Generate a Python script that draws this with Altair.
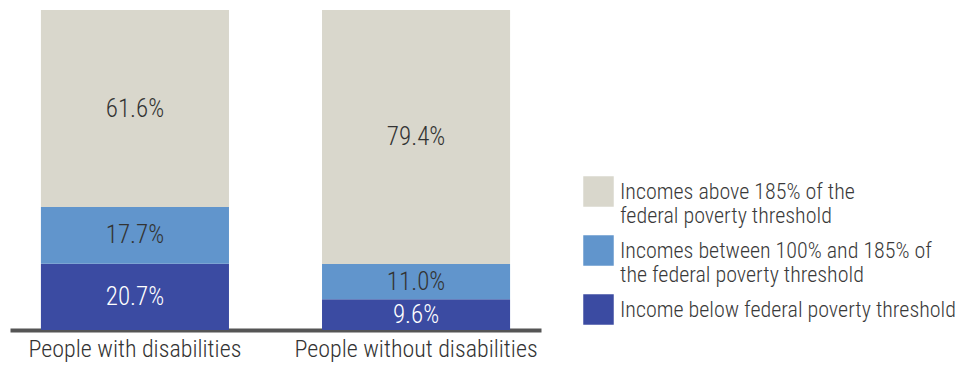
import altair as alt
import pandas as pd

groups = ["People with disabilities", "People without disabilities"]
categories = [
    "Income below federal poverty threshold",
    "Incomes between 100% and 185% of|the federal poverty threshold",
    "Incomes above 185% of the|federal poverty threshold",
]
with_dis = [20.7, 17.7, 61.6]
without_dis = [9.6, 11.0, 79.4]
colors = ["#3B4BA2", "#6195CC", "#D9D7CC"]
label_colors = ["#FFFFFF", "#333333", "#333333"]

rows = []
for g, vals in zip(groups, [with_dis, without_dis]):
    for i, (c, v) in enumerate(zip(categories, vals)):
        rows.append({"group": g, "cat": c, "value": v, "order": i,
                     "label": f"{v:.1f}%", "tcolor": label_colors[i]})
df = pd.DataFrame(rows)

FONT = "Roboto Condensed, DejaVu Sans Condensed, Roboto"

base = alt.Chart(df).transform_stack(
    stack="value", groupby=["group"], as_=["y0", "y1"],
    sort=[alt.SortField("order", order="ascending")]
).transform_calculate(mid="(datum.y0 + datum.y1) / 2")

x = alt.X("group:N", sort=groups, title=None,
          scale=alt.Scale(paddingInner=0.331, paddingOuter=0.11),
          axis=alt.Axis(labelAngle=0, ticks=False, domainColor="#555555",
                        domainWidth=4, labelFont=FONT, labelFontSize=24,
                        labelFontWeight=300,
                        labelColor="#333333", labelPadding=7, labelLimit=400))
yscale = alt.Scale(domain=[0, 100], nice=False)

bars = base.mark_bar().encode(
    x=x,
    y=alt.Y("y0:Q", scale=yscale, axis=None),
    y2="y1:Q",
    color=alt.Color("cat:N", sort=categories[::-1],
                    scale=alt.Scale(domain=categories[::-1], range=colors[::-1]),
                    legend=alt.Legend(title=None, orient="none", legendX=573, legendY=166,
                                      symbolType="square", symbolSize=930,
                                      symbolStrokeWidth=0, labelFont=FONT,
                                      labelFontSize=22, labelFontWeight=300,
                                      labelColor="#3a3a3a",
                                      labelOffset=6, rowPadding=8, labelLimit=500,
                                      labelExpr="split(datum.label, '|')")),
)

texts = base.mark_text(font=FONT, fontSize=25, fontWeight=300, baseline="middle").encode(
    x=alt.X("group:N", sort=groups),
    y=alt.Y("mid:Q", scale=yscale),
    text="label:N",
    color=alt.Color("tcolor:N", scale=None),
)

chart = alt.layer(bars, texts).properties(
    width=531, height=320,
    padding={"left": 10, "top": 10, "right": 415, "bottom": 36},
    autosize=alt.AutoSizeParams(type="none"),
    background="white",
).configure_view(stroke=None)

chart.save("out.html", embed_options={"renderer": "svg", "actions": False})
